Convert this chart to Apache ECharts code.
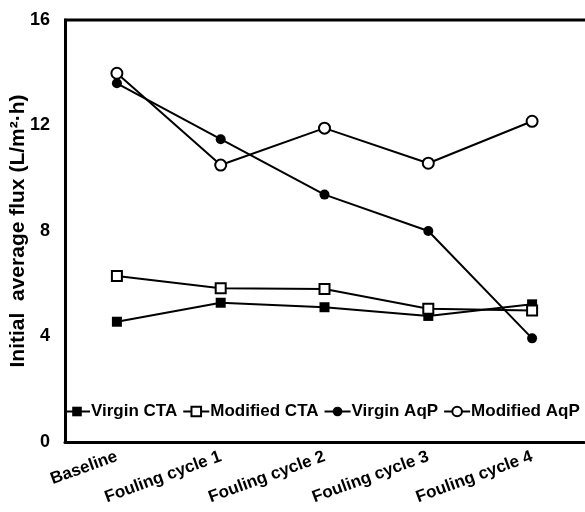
<!doctype html>
<html>
<head>
<meta charset="utf-8">
<title>Initial average flux</title>
<style>
  html, body { margin: 0; padding: 0; background: #fff; }
  #main { width: 585px; height: 512px; }
</style>
</head>
<body>
<div id="main"></div>
<script src="https://cdn.jsdelivr.net/npm/echarts@6/dist/echarts.min.js"></script>
<script>
var chart = echarts.init(document.getElementById('main'));

// data
var categories = ['Baseline', 'Fouling cycle 1', 'Fouling cycle 2', 'Fouling cycle 3', 'Fouling cycle 4'];
var virginCTA = [4.56, 5.28, 5.11, 4.78, 5.22];
var modifiedCTA = [6.29, 5.83, 5.80, 5.05, 4.99];
var virginAqP = [13.6, 11.48, 9.38, 8.0, 3.93];
var modifiedAqP = [13.98, 10.5, 11.9, 10.57, 12.16];
var yTicks = [0, 4, 8, 12, 16];

var font = 'Liberation Sans, Arial, sans-serif';

function makeSeries(name, data, symbol, filled, size) {
    return {
        name: name,
        type: 'line',
        data: data,
        symbol: symbol,
        symbolSize: size,
        showSymbol: true,
        lineStyle: { color: '#000', width: 2 },
        itemStyle: {
            color: filled ? '#000' : '#fff',
            borderColor: '#000',
            borderWidth: filled ? 0 : 2
        },
        emphasis: { disabled: true },
        animation: false
    };
}

chart.setOption({
    backgroundColor: '#fff',
    grid: { left: 65, right: 1, top: 20, bottom: 70, outerBoundsMode: 'none', containLabel: false },
    legend: {
        left: 63,
        top: 403,
        width: 580,
        padding: 0,
        itemGap: 5,
        itemWidth: 26,
        itemHeight: 12,
        textStyle: { fontFamily: font, fontWeight: 'bold', fontSize: 17, color: '#000', padding: [0, 0, 0, -4] },
        data: ['Virgin CTA', 'Modified CTA', 'Virgin AqP', 'Modified AqP']
    },
    xAxis: {
        type: 'category',
        data: categories,
        boundaryGap: true,
        axisLine: { show: true, lineStyle: { color: '#000', width: 3 } },
        axisTick: { show: false },
        axisLabel: {
            interval: 0,
            rotate: 20,
            margin: 14,
            fontFamily: font,
            fontWeight: 'bold',
            fontSize: 17,
            color: '#000'
        },
        splitLine: { show: false }
    },
    yAxis: {
        type: 'value',
        min: yTicks[0],
        max: yTicks[yTicks.length - 1],
        interval: 4,
        name: 'Initial  average flux (L/m\u00b2\u00b7h)',
        nameLocation: 'middle',
        nameGap: 36,
        nameMoveOverlap: false,
        nameTextStyle: { fontFamily: font, fontWeight: 'bold', fontSize: 21, color: '#000' },
        axisLine: { show: true, lineStyle: { color: '#000', width: 3 } },
        axisTick: { show: false },
        axisLabel: {
            margin: 15,
            fontFamily: font,
            fontWeight: 'bold',
            fontSize: 18,
            color: '#000'
        },
        splitLine: { show: false }
    },
    graphic: [{
        type: 'line',
        shape: { x1: 64, y1: 20, x2: 585, y2: 20 },
        style: { stroke: '#000', lineWidth: 3 },
        silent: true
    }],
    series: [
        makeSeries('Virgin CTA', virginCTA, 'rect', true, 10),
        makeSeries('Modified CTA', modifiedCTA, 'rect', false, 10),
        makeSeries('Virgin AqP', virginAqP, 'circle', true, 10),
        makeSeries('Modified AqP', modifiedAqP, 'circle', false, 11)
    ]
});

window.addEventListener('resize', function () {
    chart.resize();
});
</script>
</body>
</html>
